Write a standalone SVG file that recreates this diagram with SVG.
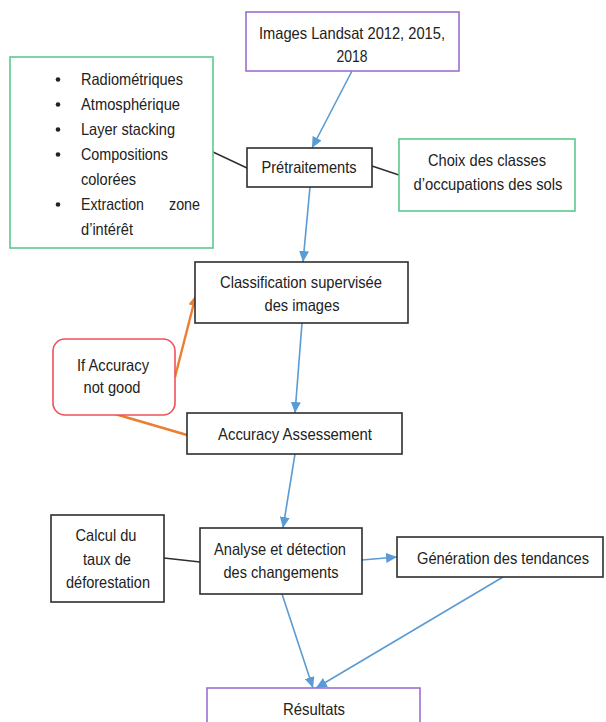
<svg xmlns="http://www.w3.org/2000/svg" width="606" height="722" viewBox="0 0 606 722">
<style>
text{font-family:"Liberation Sans",Arial,sans-serif;font-size:16.5px;fill:#222}
.c{text-anchor:middle}
.box{fill:#fff;stroke:#2e2e2e;stroke-width:1.6}
.grn{fill:#fff;stroke:#5cc98c;stroke-width:1.6}
.pur{fill:#fff;stroke:#9b6fcf;stroke-width:1.6}
.red{fill:#fff;stroke:#f0505a;stroke-width:1.6}
.blue{stroke:#5b9bd5;stroke-width:1.6;fill:none}
.org{stroke:#ed7d31;stroke-width:2.4;fill:none}
.blk{stroke:#2e2e2e;stroke-width:1.4;fill:none}
</style>
<defs>
<marker id="ab" markerUnits="userSpaceOnUse" markerWidth="12" markerHeight="10" refX="11" refY="5" orient="auto"><path d="M0,0 L11,5 L0,10 z" fill="#5b9bd5"/></marker>
<marker id="ao" markerUnits="userSpaceOnUse" markerWidth="12" markerHeight="10" refX="11" refY="5" orient="auto"><path d="M0,0 L11,5 L0,10 z" fill="#ed7d31"/></marker>
</defs>
<rect width="606" height="722" fill="#fff"/>
<g id="connectors">
<line class="blue" x1="352" y1="71" x2="312" y2="148" marker-end="url(#ab)"/>
<line class="blue" x1="310" y1="187" x2="303" y2="262" marker-end="url(#ab)"/>
<line class="blue" x1="302" y1="323" x2="295" y2="413" marker-end="url(#ab)"/>
<line class="blue" x1="295" y1="454" x2="283" y2="528" marker-end="url(#ab)"/>
<line class="blue" x1="362" y1="560" x2="397" y2="557" marker-end="url(#ab)"/>
<line class="blue" x1="282" y1="594" x2="313" y2="688" marker-end="url(#ab)"/>
<line class="blue" x1="503" y1="577" x2="316" y2="688" marker-end="url(#ab)"/>
<line class="org" x1="175" y1="377" x2="196" y2="295" marker-end="url(#ao)"/>
<line class="org" x1="187" y1="435" x2="115" y2="414"/>
<line class="blk" x1="213" y1="152" x2="247" y2="168"/>
<line class="blk" x1="372" y1="166" x2="399" y2="175"/>
<line class="blk" x1="164" y1="558" x2="200" y2="562"/>
</g>
<g id="images">
<rect class="pur" x="246" y="12" width="213" height="59"/>
<text class="c" x="352" y="38.5" textLength="186" lengthAdjust="spacingAndGlyphs">Images Landsat 2012, 2015,</text>
<text class="c" x="352" y="62" textLength="31" lengthAdjust="spacingAndGlyphs">2018</text>
</g>
<g id="pretraitements-list">
<rect class="grn" x="10" y="57" width="203" height="191"/>
<g fill="#222"><circle cx="58" cy="79.5" r="2.3"/><circle cx="58" cy="104.5" r="2.3"/><circle cx="58" cy="129.5" r="2.3"/><circle cx="58" cy="154.5" r="2.3"/><circle cx="58" cy="204.5" r="2.3"/></g>
<text x="81" y="85" textLength="102" lengthAdjust="spacingAndGlyphs">Radiométriques</text>
<text x="81" y="110" textLength="99" lengthAdjust="spacingAndGlyphs">Atmosphérique</text>
<text x="81" y="135" textLength="94" lengthAdjust="spacingAndGlyphs">Layer stacking</text>
<text x="81" y="160" textLength="87" lengthAdjust="spacingAndGlyphs">Compositions</text>
<text x="81" y="185" textLength="55" lengthAdjust="spacingAndGlyphs">colorées</text>
<text x="81" y="210" textLength="63" lengthAdjust="spacingAndGlyphs">Extraction</text>
<text x="169" y="210" textLength="31" lengthAdjust="spacingAndGlyphs">zone</text>
<text x="81" y="235" textLength="52" lengthAdjust="spacingAndGlyphs">d’intérêt</text>
</g>
<g id="pretraitements">
<rect class="box" x="247" y="148" width="125" height="39"/>
<text class="c" x="309" y="173" textLength="95" lengthAdjust="spacingAndGlyphs">Prétraitements</text>
</g>
<g id="choix">
<rect class="grn" x="399" y="139" width="176" height="72"/>
<text class="c" x="487" y="166" textLength="118" lengthAdjust="spacingAndGlyphs">Choix des classes</text>
<text class="c" x="488" y="190" textLength="149" lengthAdjust="spacingAndGlyphs">d’occupations des sols</text>
</g>
<g id="classification">
<rect class="box" x="195" y="262" width="213" height="61"/>
<text class="c" x="301" y="288" textLength="162" lengthAdjust="spacingAndGlyphs">Classification supervisée</text>
<text class="c" x="302" y="311" textLength="75" lengthAdjust="spacingAndGlyphs">des images</text>
</g>
<g id="if-accuracy">
<rect class="red" x="53" y="339" width="122" height="76" rx="12"/>
<text class="c" x="113" y="371" textLength="72" lengthAdjust="spacingAndGlyphs">If Accuracy</text>
<text class="c" x="112" y="393" textLength="57" lengthAdjust="spacingAndGlyphs">not good</text>
</g>
<g id="accuracy">
<rect class="box" x="187" y="413" width="215" height="41"/>
<text class="c" x="295" y="440" textLength="154" lengthAdjust="spacingAndGlyphs">Accuracy Assessement</text>
</g>
<g id="calcul">
<rect class="box" x="51" y="515" width="113" height="87"/>
<text class="c" x="106" y="541" textLength="61" lengthAdjust="spacingAndGlyphs">Calcul du</text>
<text class="c" x="107" y="565" textLength="48" lengthAdjust="spacingAndGlyphs">taux de</text>
<text class="c" x="108" y="588" textLength="84" lengthAdjust="spacingAndGlyphs">déforestation</text>
</g>
<g id="analyse">
<rect class="box" x="200" y="528" width="162" height="66"/>
<text class="c" x="280" y="555" textLength="132" lengthAdjust="spacingAndGlyphs">Analyse et détection</text>
<text class="c" x="281" y="578" textLength="115" lengthAdjust="spacingAndGlyphs">des changements</text>
</g>
<g id="generation">
<rect class="box" x="397" y="537" width="206" height="40"/>
<text class="c" x="503" y="564" textLength="172" lengthAdjust="spacingAndGlyphs">Génération des tendances</text>
</g>
<g id="resultats">
<rect class="pur" x="207" y="688" width="213" height="50"/>
<text class="c" x="314" y="715" textLength="62" lengthAdjust="spacingAndGlyphs">Résultats</text>
</g>
</svg>
